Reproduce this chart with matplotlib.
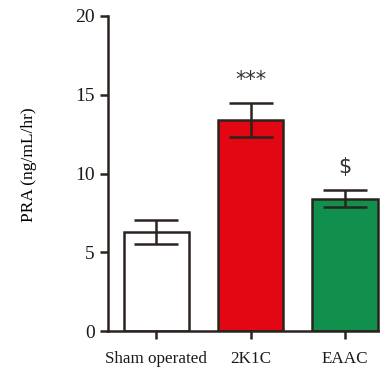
import numpy as np
import matplotlib.pyplot as plt

groups = ["Sham operated", "2K1C", "EAAC"]
pra_mean = [6.3, 13.4, 8.4]
pra_sem = [0.75, 1.1, 0.55]
marks = ["", "***", "$"]
bar_colors = ["white", "#e30613", "#10904c"]

plt.rcParams['font.family'] = ['Liberation Serif', 'DejaVu Serif']
edge = "#2b2320"

fig = plt.figure(figsize=(3.8, 3.7), dpi=100)
ax = fig.add_axes([0.284, 0.105, 0.716, 0.852])

x = np.arange(len(groups))
ax.bar(x, pra_mean, width=0.69, color=bar_colors, edgecolor=edge, linewidth=1.8, zorder=2)
ax.errorbar(x, pra_mean, yerr=pra_sem, fmt='none', ecolor=edge, elinewidth=1.8,
            capsize=16, capthick=1.8, zorder=3)

# significance marks above the error bars
for xi, m, s, lab in zip(x, pra_mean, pra_sem, marks):
    if lab:
        ax.text(xi, m + s + 0.8, lab, ha='center', va='bottom', fontsize=15,
                color='#333333', family=['DejaVu Sans'])

ax.set_xlim(-0.51, 2.37)
ax.set_ylim(0, 20)
ax.set_yticks([0, 5, 10, 15, 20])
ax.set_xticks(x)
ax.set_xticklabels(groups)
ax.set_ylabel("PRA (ng/mL/hr)", fontsize=12.5)
ax.yaxis.set_label_coords(-0.262, 0.527)

for side in ['top', 'right']:
    ax.spines[side].set_visible(False)
for side in ['left', 'bottom']:
    ax.spines[side].set_linewidth(1.8)
    ax.spines[side].set_color(edge)
ax.tick_params(axis='both', colors=edge, width=1.8, length=6, labelsize=14,
               labelcolor='#1a1a1a')
ax.tick_params(axis='x', labelsize=12.3, pad=8)

fig.savefig("out.png", dpi=100)
